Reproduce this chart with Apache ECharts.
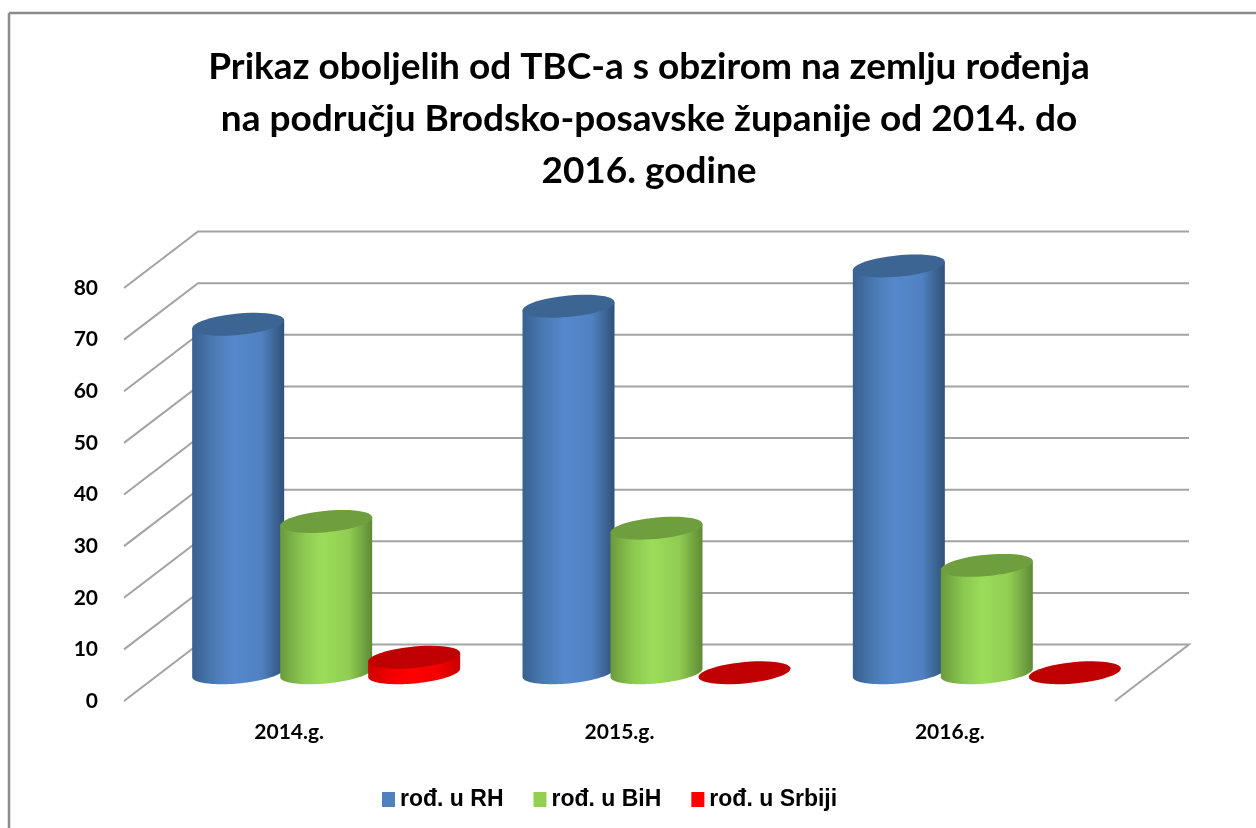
<!DOCTYPE html>
<html>
<head>
<meta charset="utf-8">
<style>html,body{margin:0;padding:0;background:#fff}#c{width:1256px;height:828px}</style>
<script src="https://cdn.jsdelivr.net/npm/echarts@6/dist/echarts.min.js"></script>
</head>
<body>
<div id="c"></div>
<script>
const titleLines = [
  'Prikaz oboljelih od TBC-a s obzirom na zemlju rođenja',
  'na području Brodsko-posavske županije od 2014. do',
  '2016. godine'
];
const categories = ['2014.g.', '2015.g.', '2016.g.'];
const seriesNames = ['rođ. u RH', 'rođ. u BiH', 'rođ. u Srbiji'];
const valuesRH = [67.5, 71, 78.8];
const valuesBiH = [29.3, 28, 20.8];
const valuesSrbija = [3, 0, 0];
const yTicks = [0, 10, 20, 30, 40, 50, 60, 70, 80];

const DEPTH = [74, -56.5];
const BAR_STEP = 88;
const RX = 46, RY = 10.7, SKEW = 4.2;
const GRID_COLOR = '#a3a3a3';

const palette = [
  {lid: '#3d6594', stops: ['#38608f', '#4c7cb6', '#5588cc', '#5082c2', '#2f5177'], flat: '#4f81bd'},
  {lid: '#6f9e3f', stops: ['#6a9a3c', '#8cc850', '#9bdd5a', '#90cc52', '#5f8a35'], flat: '#92d050'},
  {lid: '#c00000', stops: ['#cf0000', '#f20000', '#ff0000', '#f60000', '#c80000'], flat: '#ff0000'}
];

function ellipsePts(cx, cy, from, to) {
  const pts = [], n = 48;
  for (let i = 0; i <= n; i++) {
    const t = from + (to - from) * i / n;
    pts.push([cx + RX * Math.cos(t), cy + RY * Math.sin(t) - SKEW * Math.cos(t)]);
  }
  return pts;
}

function cylinderRender(index) {
  return function (params, api) {
    const cat = api.value(0), v = api.value(1);
    const top = api.coord([cat, v]);
    const base = api.coord([cat, 0]);
    const cx = top[0] + (index - 1) * BAR_STEP + DEPTH[0] / 2;
    const ty = top[1] + DEPTH[1] / 2;
    const by = base[1] + DEPTH[1] / 2;
    const c = palette[index];
    const children = [];
    if (v > 0) {
      const bottom = ellipsePts(cx, by, 0, Math.PI);
      const body = [[cx + RX, ty - SKEW]].concat(bottom, [[cx - RX, ty + SKEW]]);
      children.push({
        type: 'polygon',
        shape: {points: body},
        style: {fill: new echarts.graphic.LinearGradient(0, 0, 1, 0, [
          {offset: 0, color: c.stops[0]},
          {offset: 0.25, color: c.stops[1]},
          {offset: 0.45, color: c.stops[2]},
          {offset: 0.75, color: c.stops[3]},
          {offset: 1, color: c.stops[4]}
        ])}
      });
    }
    children.push({
      type: 'polygon',
      shape: {points: ellipsePts(cx, ty, 0, Math.PI * 2)},
      style: {fill: c.lid}
    });
    return {type: 'group', children};
  };
}

function wallRender(params, api) {
  const sys = params.coordSys;
  const v = api.value(0);
  const y = api.coord([0, v])[1];
  const x0 = sys.x, x1 = sys.x + sys.width;
  const pts = [[x0, y], [x0 + DEPTH[0], y + DEPTH[1]], [x1 + DEPTH[0], y + DEPTH[1]]];
  if (v === 0) pts.push([x1, y]);
  return {
    type: 'polyline',
    shape: {points: pts},
    style: {stroke: GRID_COLOR, lineWidth: 2, fill: null}
  };
}

const allValues = [valuesRH, valuesBiH, valuesSrbija];
const chart = echarts.init(document.getElementById('c'), null, {renderer: 'canvas'});
chart.setOption({
  animation: false,
  backgroundColor: '#fff',
  title: {
    text: titleLines.join('\n'),
    left: 644,
    top: 36,
    textAlign: 'center',
    textStyle: {fontFamily: 'Lato', fontWeight: 'bold', fontSize: 37, lineHeight: 52, color: '#000'}
  },
  legend: {
    left: 377,
    top: 783,
    itemWidth: 13,
    itemHeight: 15,
    itemGap: 30,
    icon: 'rect',
    data: seriesNames,
    textStyle: {fontFamily: 'Liberation Sans', fontWeight: 'bold', fontSize: 23, color: '#000', padding: [0, 0, 0, 0]},
    selectedMode: false,
    formatter: n => n
  },
  grid: {left: 124, right: 141, top: 288, height: 413, containLabel: false},
  xAxis: {
    type: 'category',
    data: categories,
    axisLine: {show: false},
    axisTick: {show: false},
    axisLabel: {fontFamily: 'Lato', fontWeight: 'bold', fontSize: 21, color: '#000', margin: 21}
  },
  yAxis: {
    type: 'value',
    min: 0,
    max: 80,
    interval: 10,
    axisLine: {show: false},
    axisTick: {show: false},
    splitLine: {show: false},
    axisLabel: {fontFamily: 'Lato', fontWeight: 'bold', fontSize: 21, color: '#000', margin: 26}
  },
  series: [
    {
      type: 'custom',
      name: 'walls',
      silent: true,
      z: 1,
      coordinateSystem: 'cartesian2d',
      encode: {y: 0},
      data: yTicks.map(v => [v]),
      renderItem: wallRender,
      clip: false
    }
  ].concat(seriesNames.map((name, i) => ({
    type: 'custom',
    name,
    z: 2 + i,
    itemStyle: {color: palette[i].flat},
    coordinateSystem: 'cartesian2d',
    encode: {x: 0, y: 1},
    data: allValues[i].map((v, k) => [k, v]),
    renderItem: cylinderRender(i),
    clip: false
  }))),
  graphic: [
    {type: 'line', shape: {x1: 9, y1: 13, x2: 1256, y2: 13}, style: {stroke: '#8c8c8c', lineWidth: 2.5}, z: 10},
    {type: 'line', shape: {x1: 9, y1: 13, x2: 9, y2: 828}, style: {stroke: '#8c8c8c', lineWidth: 2.5}, z: 10}
  ]
});
</script>
</body>
</html>
